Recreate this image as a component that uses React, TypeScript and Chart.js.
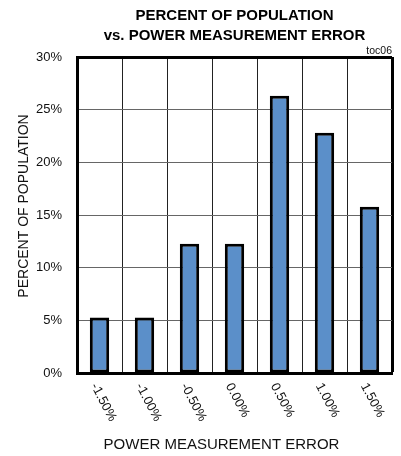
import React, { useEffect, useRef } from "react";
import { Chart, registerables } from "chart.js";

Chart.register(...registerables);

const categories = ["-1.50%", "-1.00%", "-0.50%", "0.00%", "0.50%", "1.00%", "1.50%"];
const populationPct = [5.26, 5.26, 12.28, 12.28, 26.32, 22.81, 15.79];
const titleLines = ["PERCENT OF POPULATION", "vs. POWER MEASUREMENT ERROR"];
const subtitleText = "toc06";
const xTitle = "POWER MEASUREMENT ERROR";
const yTitle = "PERCENT OF POPULATION";

const FONT = "'Liberation Sans', Arial, Helvetica, sans-serif";

const axisTexts = {
  id: "axisTexts",
  afterDraw(chart: any) {
    const ctx = chart.ctx;
    const xs = chart.scales.x;
    const ys = chart.scales.y;
    const area = chart.chartArea;
    ctx.save();
    ctx.fillStyle = "#111";
    ctx.font = `13px ${FONT}`;
    categories.forEach((lab, i) => {
      const x = xs.getPixelForTick(i);
      ctx.save();
      ctx.translate(x, xs.top + 8);
      ctx.rotate((62 * Math.PI) / 180);
      ctx.textAlign = "left";
      ctx.textBaseline = "top";
      ctx.fillText(lab, 0, 0);
      ctx.restore();
    });
    ctx.font = `15px ${FONT}`;
    ctx.textAlign = "center";
    ctx.textBaseline = "middle";
    const cx = (area.left + area.right) / 2 - 13;
    ctx.fillText(xTitle, cx, xs.bottom - 11);
    ctx.font = `14px ${FONT}`;
    ctx.save();
    ctx.translate(ys.left + 24, (area.top + area.bottom) / 2 - 9);
    ctx.rotate(-Math.PI / 2);
    ctx.fillText(yTitle, 0, 0);
    ctx.restore();
    ctx.restore();
  },
};

export default function App() {
  const ref = useRef<HTMLCanvasElement | null>(null);
  useEffect(() => {
    if (!ref.current) return;
    const chart = new Chart(ref.current, {
      type: "bar",
      data: {
        labels: categories,
        datasets: [
          {
            data: populationPct,
            backgroundColor: "#5b8fc9",
            borderColor: "#000",
            borderWidth: 3,
            borderSkipped: false,
            barPercentage: 0.43,
            categoryPercentage: 1,
          },
        ],
      },
      options: {
        responsive: false,
        animation: false,
        layout: { padding: { left: 0, right: 9, top: 0, bottom: 0 } },
        plugins: {
          legend: { display: false },
          tooltip: { enabled: false },
          title: {
            display: true,
            text: titleLines,
            fullSize: false,
            color: "#000",
            font: { family: FONT, size: 15, weight: "bold", lineHeight: "20px" },
            padding: { top: 6, bottom: 0 },
          },
          subtitle: {
            display: true,
            text: subtitleText,
            align: "end",
            fullSize: false,
            color: "#111",
            font: { family: FONT, size: 10.5, lineHeight: "11px" },
            padding: { top: 0, bottom: 0 },
          },
        },
        scales: {
          x: {
            ticks: { display: false },
            grid: {
              drawTicks: false,
              color: (c: any) => (c.type === "scale" ? "#000" : "#222"),
              lineWidth: (c: any) => (c.type === "scale" ? 3 : 1),
            },
            border: { display: true, color: "#000", width: 3 },
            afterFit: (s: any) => {
              s.height = 83;
            },
          },
          y: {
            min: 0,
            max: 30,
            ticks: {
              stepSize: 5,
              padding: 15,
              color: "#111",
              font: { family: FONT, size: 13 },
              callback: (v: any) => `${v}%`,
            },
            grid: {
              drawTicks: false,
              color: (c: any) => (c.tick && c.tick.value === 30 ? "#000" : "#666"),
              lineWidth: (c: any) => (c.tick && c.tick.value === 30 ? 3 : 1),
            },
            border: { display: true, color: "#000", width: 3 },
            title: { display: false },
            afterFit: (s: any) => {
              s.width = 77;
            },
          },
        },
      },
      plugins: [axisTexts],
    });
    return () => chart.destroy();
  }, []);
  return (
    <div style={{ position: "fixed", left: 0, top: 0, width: 401, height: 456, background: "#fff" }}>
      <canvas ref={ref} width={401} height={456} />
    </div>
  );
}
